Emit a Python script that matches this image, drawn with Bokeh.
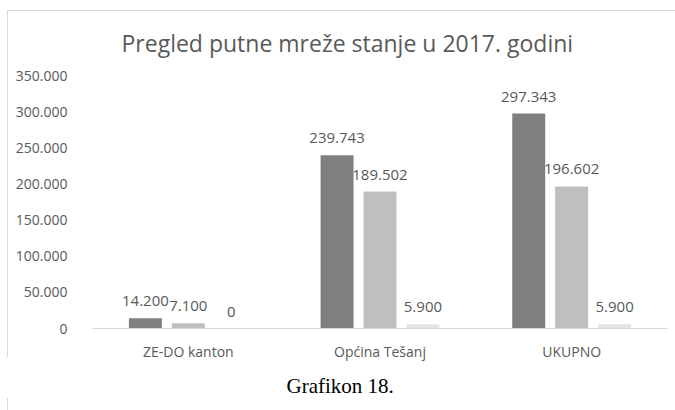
from bokeh.plotting import figure
from bokeh.models import (ColumnDataSource, FactorRange, Range1d, LabelSet, Title,
                          CustomJSTickFormatter, FixedTicker)
from bokeh.transform import dodge
from bokeh.core.properties import value
from bokeh.embed import file_html
from bokeh.resources import INLINE

categories = ["ZE-DO kanton", "Općina Tešanj", "UKUPNO"]
series_a = [14200, 239743, 297343]
series_b = [7100, 189502, 196602]
series_c = [0, 5900, 5900]
y_ticks = [0, 50000, 100000, 150000, 200000, 250000, 300000, 350000]
title_text = "Pregled putne mreže stanje u 2017. godini"
caption_text = "Grafikon 18."

def fmt(v):
    return f"{v:,}".replace(",", ".")

src = ColumnDataSource(dict(
    cat=categories,
    a=series_a, b=series_b, c=series_c,
    la=[fmt(v) for v in series_a],
    lb=[fmt(v) for v in series_b],
    lc=[fmt(v) for v in series_c],
))

W, H = 675, 410
p = figure(x_range=FactorRange(*categories), y_range=Range1d(0, 350000),
           width=W, height=H, output_backend="svg", toolbar_location=None,
           min_border_left=92, min_border_right=8, min_border_top=75, min_border_bottom=82)
p.outline_line_color = None
p.xgrid.visible = False
p.ygrid.visible = False
p.border_fill_color = None
p.background_fill_color = None
g = "linear-gradient(#d9d9d9,#d9d9d9)"
p.styles = {
    "background": (f"{g} 7px 10px / 668px 1px no-repeat, "
                   f"{g} 7px 10px / 1px 347px no-repeat, "
                   f"{g} 7px 398px / 1px 12px no-repeat, #ffffff"),
}

bw = 0.172
step = 0.224
font = "Open Sans"
tc = "#595959"
colors = ["#7f7f7f", "#bfbfbf", "#e4e4e4"]
for off, key, col, lab in [(-step, "a", colors[0], "la"), (0.0, "b", colors[1], "lb"), (step, "c", colors[2], "lc")]:
    p.vbar(x=dodge("cat", off, range=p.x_range), top=key, width=bw, source=src,
           fill_color=col, line_color=None)
    p.add_layout(LabelSet(x=dodge("cat", off, range=p.x_range), y=key, text=lab, source=src,
                          text_align="center", text_baseline="alphabetic", y_offset=12,
                          text_font=value(font), text_font_size="15px", text_color=tc))

p.yaxis.ticker = FixedTicker(ticks=y_ticks)
p.yaxis.formatter = CustomJSTickFormatter(code="""
return Math.round(tick).toString().replace(/\\B(?=(\\d{3})+(?!\\d))/g, '.');
""")
p.yaxis.axis_line_color = None
p.yaxis.major_tick_line_color = None
p.yaxis.minor_tick_line_color = None
p.yaxis.major_label_standoff = 19
p.yaxis.major_label_text_font = font
p.yaxis.major_label_text_font_size = "14px"
p.yaxis.major_label_text_color = tc

p.xaxis.axis_line_color = "#d9d9d9"
p.xaxis.axis_line_width = 1
p.xaxis.major_tick_line_color = None
p.xaxis.minor_tick_line_color = None
p.xaxis.major_label_standoff = 7
p.xaxis.major_label_text_font = font
p.xaxis.major_label_text_font_size = "14px"
p.xaxis.major_label_text_color = tc

p.title.text = title_text
p.title.align = "left"
p.title.offset = 29
p.title.vertical_align = "bottom"
p.title.standoff = 34
p.title.text_font = font
p.title.text_font_size = "23px"
p.title.text_font_style = "normal"
p.title.text_color = tc

cap = Title(text=caption_text, align="left", offset=194, vertical_align="top", standoff=20,
            text_font="Liberation Serif", text_font_size="21px", text_font_style="normal",
            text_color="#000000")
p.add_layout(cap, "below")

open("out.html", "w").write(file_html(p, INLINE))
